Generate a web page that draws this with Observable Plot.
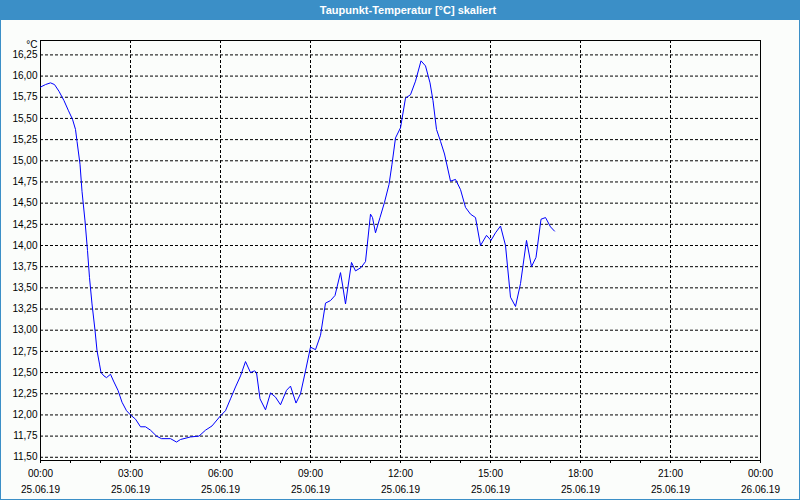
<!DOCTYPE html>
<html><head><meta charset="utf-8">
<script src="https://cdn.jsdelivr.net/npm/d3@7"></script>
<script src="https://cdn.jsdelivr.net/npm/@observablehq/plot@0.6"></script>
<style>
html,body{margin:0;padding:0;background:#fff;}
#wrap{width:800px;height:500px;box-sizing:border-box;position:relative;overflow:hidden;background:#fbfdfb;}
#title{height:20px;background:#3b8fc7;color:#fff;font:bold 11px "Liberation Sans",Arial,sans-serif;text-align:center;line-height:20px;padding-left:16px;box-sizing:border-box;}
#chart{height:480px;border:1px solid #3b8fc7;border-top:none;box-sizing:border-box;}
#chart svg{display:block;}
</style></head>
<body><div id="wrap"><div id="title">Taupunkt-Temperatur [°C] skaliert</div><div id="chart"></div></div>
<script>
const times = ["00:00","00:10","00:20","00:28","00:37","00:47","00:56","01:04","01:10","01:13","01:19","01:23","01:29","01:34","01:38","01:43","01:49","01:53","01:58","02:01","02:07","02:12","02:20","02:26","02:35","02:43","02:52","03:00","03:10","03:20","03:30","03:40","03:52","04:02","04:20","04:32","04:40","05:00","05:17","05:30","05:43","06:00","06:10","06:20","06:30","06:40","06:50","07:00","07:08","07:12","07:19","07:30","07:40","07:50","08:00","08:12","08:20","08:31","08:40","08:50","09:00","09:10","09:20","09:30","09:40","09:49","10:00","10:05","10:10","10:22","10:30","10:41","10:50","11:00","11:04","11:10","11:19","11:28","11:37","11:43","11:50","12:00","12:10","12:20","12:30","12:41","12:50","12:59","13:05","13:12","13:20","13:28","13:40","13:50","14:00","14:10","14:20","14:30","14:40","14:52","15:01","15:10","15:20","15:30","15:40","15:50","16:00","16:12","16:22","16:31","16:41","16:50","17:00","17:08"];
const values = [15.87,15.90,15.92,15.90,15.82,15.71,15.59,15.49,15.37,15.23,14.96,14.64,14.29,13.94,13.62,13.31,13.00,12.76,12.60,12.50,12.46,12.44,12.48,12.40,12.29,12.15,12.05,12.00,11.95,11.86,11.86,11.82,11.75,11.72,11.72,11.68,11.71,11.74,11.75,11.82,11.87,11.99,12.05,12.19,12.33,12.46,12.63,12.50,12.52,12.50,12.19,12.06,12.26,12.21,12.12,12.29,12.34,12.14,12.25,12.52,12.80,12.77,12.94,13.32,13.35,13.41,13.68,13.50,13.31,13.80,13.70,13.74,13.81,14.37,14.33,14.15,14.33,14.51,14.72,14.96,15.27,15.39,15.74,15.78,15.94,16.18,16.12,15.92,15.71,15.37,15.23,15.08,14.76,14.78,14.66,14.45,14.37,14.33,14.00,14.12,14.06,14.15,14.23,14.00,13.39,13.28,13.55,14.06,13.75,13.86,14.31,14.33,14.22,14.17];
const yTicks = [11.5,11.75,12,12.25,12.5,12.75,13,13.25,13.5,13.75,14,14.25,14.5,14.75,15,15.25,15.5,15.75,16,16.25];
const labelHours = [0,3,6,9,12,15,18,21,24];
const gridHours = [3,6,9,12,15,18,21];
const minorHours = d3.range(0,25);
const yDomain = [11.462, 16.42];

const day = (h, m = 0) => new Date(2019, 5, 25, h, m);
const data = times.map((t, i) => {
  const [h, m] = t.split(":").map(Number);
  return {date: day(h, m), value: values[i]};
});
const fmtTime = d3.timeFormat("%H:%M");
const fmtDate = d3.timeFormat("%d.%m.%y");
const font = '"Liberation Sans", Arial, sans-serif';

const chart = Plot.plot({
  width: 798, height: 479,
  marginLeft: 39, marginRight: 39, marginTop: 20, marginBottom: 39,
  style: {background: "transparent", fontFamily: font, fontSize: "10px", color: "#000"},
  x: {type: "time", domain: [day(0), day(24)], label: null},
  y: {domain: yDomain, label: null},
  marks: [
    Plot.gridY(yTicks, {stroke: "#000", strokeOpacity: 1, strokeDasharray: "3,2"}),
    Plot.gridX(gridHours.map(h => day(h)), {stroke: "#000", strokeOpacity: 1, strokeDasharray: "3,2"}),
    Plot.frame({stroke: "#000"}),
    Plot.axisY(yTicks, {tickSize: 0, tickPadding: 3, tickFormat: d => d.toFixed(2).replace(".", ","), fill: "#000"}),
    Plot.axisX(minorHours.map(h => day(h)), {tickSize: 3, tickFormat: () => "", stroke: "#000"}),
    Plot.text(labelHours.map(h => day(h)), {x: d => d, text: d => fmtTime(d), frameAnchor: "bottom", dy: 13, lineAnchor: "middle", fill: "#000"}),
    Plot.text(labelHours.map(h => day(h)), {x: d => d, text: d => fmtDate(d), frameAnchor: "bottom", dy: 29, lineAnchor: "middle", fill: "#000"}),
    Plot.text(["°C"], {frameAnchor: "top-left", textAnchor: "end", dx: -3, dy: 4, lineAnchor: "middle", fill: "#000"}),
    Plot.line(data, {x: "date", y: "value", stroke: "#0000ff", strokeWidth: 1})
  ]
});
document.getElementById("chart").appendChild(chart);
</script>
</body></html>
